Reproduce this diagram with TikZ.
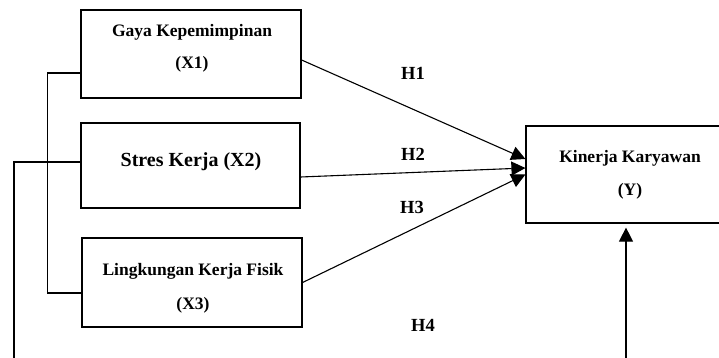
\documentclass[tikz,border=0pt]{standalone}
\usepackage{fontspec}
\setmainfont{Liberation Serif}
\usetikzlibrary{arrows.meta, positioning, calc}

\begin{document}
\begin{tikzpicture}[x=1pt, y=-1pt,
  varbox/.style={draw, line width=1.2pt, minimum width=220pt},
  vartext/.style={align=center, inner sep=0pt, font=\fontsize{17.5}{32}\selectfont\bfseries},
  hlabel/.style={font=\fontsize{18.5}{20}\selectfont\bfseries},
  link/.style={line width=1.1pt},
  effect/.style={link, -{Triangle[length=14pt, width=14pt]}}
]
  \clip (0,0) rectangle (719,358);

  % variables
  \node[varbox, minimum height=88pt] (x1) at (191,54) {};
  \node[varbox, minimum width=219pt, minimum height=85pt] (x2) at (190.5,165.5) {};
  \node[varbox, minimum height=89pt] (x3) at (192,282.5) {};
  \node[varbox, minimum width=208pt, minimum height=97pt] (y) at (630,174.5) {};

  \node[vartext] (x1t) at (192,48) {Gaya Kepemimpinan\\(X1)};
  \node[vartext, font=\fontsize{20}{24}\selectfont\bfseries] (x2t) at (191,162) {Stres Kerja (X2)};
  \node[vartext, font=\fontsize{17.5}{34}\selectfont\bfseries] (x3t) at (193,288) {Lingkungan Kerja Fisik\\(X3)};
  \node[vartext, font=\fontsize{17.5}{33}\selectfont\bfseries] (yt) at (630,175) {Kinerja Karyawan\\(Y)};

  % hypotheses
  \draw[effect] ([yshift=-6pt]x1.east) -- ([yshift=15.5pt]y.west);
  \draw[effect] ([yshift=-11.5pt]x2.east) -- ([yshift=6.5pt]y.west);
  \draw[effect] (x3.east) -- (y.west);

  \draw[link] ([yshift=-19pt]x1.west) -- ++(-33,0) |- ([yshift=-10.5pt]x3.west);

  \coordinate (low) at (14,370);
  \draw[effect] ([yshift=3.5pt]x2.west) -| (low) -| ([xshift=-4pt, yshift=-4pt]y.south);

  \node[hlabel] (h1) at (413,73) {H1};
  \node[hlabel] (h2) at (413,154) {H2};
  \node[hlabel] (h3) at (412,207) {H3};
  \node[hlabel] (h4) at (423,325) {H4};
\end{tikzpicture}
\end{document}
